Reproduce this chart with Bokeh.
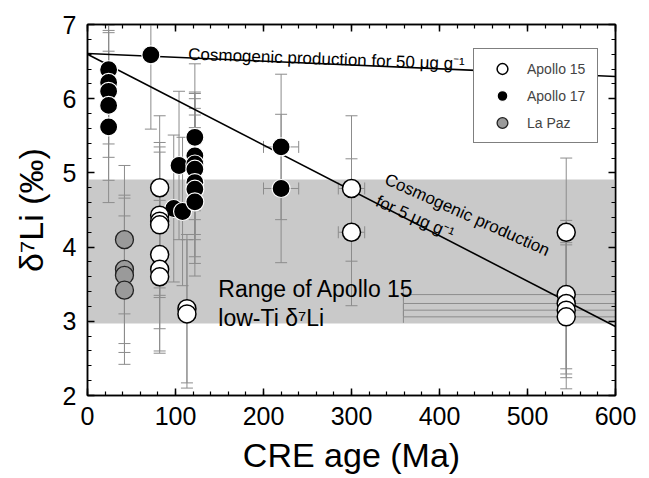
from bokeh.plotting import figure
from bokeh.models import (ColumnDataSource, Whisker, TeeHead, BoxAnnotation, Label,
                          Legend, LegendItem, LinearAxis, SingleIntervalTicker, Range1d)
from bokeh.embed import file_html
from bokeh.resources import INLINE

# ---------------- data ----------------
x_axis_range = [0, 600]
y_axis_range = [2, 7]

# Apollo 15 (open circles)
a15_age = [82, 82, 82, 82, 82, 82, 82, 113, 113, 300, 300, 544, 544, 544, 544, 544]
a15_d7li = [4.80, 4.43, 4.35, 4.30, 3.90, 3.70, 3.60, 3.17, 3.10, 4.79, 4.20,
            4.20, 3.36, 3.24, 3.15, 3.06]
a15_yerr = [0.97, 0.98, 1.00, 0.98, 1.00, 1.10, 1.03, 1.00, 1.00, 0.98, 0.99,
            1.00, 1.00, 0.95, 0.91, 0.97]
a15_xerr = [0, 0, 0, 0, 0, 0, 0, 0, 0, 15, 15, 0, 185, 185, 185, 185]

# Apollo 17 (filled black)
a17_age = [24, 24, 24, 24, 24, 72, 104, 98, 108, 122, 122, 122, 122, 122, 122, 122, 220, 220]
a17_d7li = [6.39, 6.22, 6.10, 5.91, 5.62, 6.59, 5.10, 4.52, 4.48,
            5.48, 5.23, 5.12, 5.05, 4.87, 4.78, 4.61, 5.35, 4.79]
a17_yerr = [0.50, 0.83, 0.89, 1.01, 1.02, 1.00, 1.00, 0.99, 1.00,
            0.99, 0.86, 0.95, 0.95, 1.00, 1.00, 1.00, 0.98, 1.00]
a17_xerr = [0, 0, 0, 0, 0, 0, 0, 0, 0, 0, 0, 0, 0, 0, 0, 0, 20, 20]

# La Paz (grey)
lapaz_age = [42, 42, 42, 42]
lapaz_d7li = [4.10, 3.70, 3.62, 3.42]
lapaz_yerr = [1.00, 1.00, 1.04, 1.00]

# cosmogenic production lines
cosmo50_age = [0, 600]
cosmo50_d7li = [6.61, 6.30]
cosmo5_age = [0, 600]
cosmo5_d7li = [6.60, 2.93]

# range of Apollo 15 low-Ti basalts
lowti_range = [2.97, 4.91]

# ---------------- styling ----------------
FONT = "Liberation Sans"
ERR = "#8c8c8c"

p = figure(width=649, height=478,
           x_range=Range1d(*x_axis_range), y_range=Range1d(*y_axis_range),
           output_backend="svg", toolbar_location=None,
           min_border_left=87, min_border_right=34, min_border_top=24, min_border_bottom=83)
p.background_fill_color = "white"
p.border_fill_color = "white"
p.outline_line_color = "black"
p.outline_line_width = 1.5
p.xgrid.visible = False
p.ygrid.visible = False

p.add_layout(LinearAxis(), "above")
p.add_layout(LinearAxis(), "right")

for ax in p.xaxis:
    ax.ticker = SingleIntervalTicker(interval=100, num_minor_ticks=5)
for ax in p.yaxis:
    ax.ticker = SingleIntervalTicker(interval=1, num_minor_ticks=5)

for ax in p.xaxis + p.yaxis:
    ax.axis_line_color = "black"
    ax.axis_line_width = 1.5
    ax.major_tick_in = 7
    ax.major_tick_out = 0
    ax.minor_tick_in = 4
    ax.minor_tick_out = 0
    ax.major_tick_line_color = "black"
    ax.major_tick_line_width = 1.5
    ax.minor_tick_line_color = "black"
    ax.minor_tick_line_width = 1.2
    ax.major_label_text_font = FONT
    ax.major_label_text_font_size = "25px"
    ax.major_label_text_color = "black"
    ax.major_label_standoff = 11
    ax.axis_label_text_font = FONT
    ax.axis_label_text_font_style = "normal"
    ax.axis_label_text_color = "black"

# top/right axes carry ticks only
for ax in (p.above[0], p.right[0]):
    ax.major_label_text_font_size = "1px"
    ax.major_label_text_color = None
    ax.major_label_standoff = 0

p.below[0].axis_label = "CRE age (Ma)"
p.below[0].axis_label_text_font_size = "34px"
p.below[0].axis_label_standoff = 8
p.left[0].axis_label = "δ⁷Li (‰)"
p.left[0].axis_label_text_font_size = "34px"
p.left[0].axis_label_standoff = 10

# grey band
band = BoxAnnotation(bottom=lowti_range[0], top=lowti_range[1], fill_color="#c9c9c9",
                     fill_alpha=1.0, line_alpha=0, level="image")
p.add_layout(band)


def add_yerr(xs, ys, errs):
    src = ColumnDataSource(dict(base=xs,
                                lower=[y - e for y, e in zip(ys, errs)],
                                upper=[y + e for y, e in zip(ys, errs)]))
    w = Whisker(source=src, base="base", lower="lower", upper="upper", dimension="height",
                line_color=ERR, line_width=1, level="underlay",
                upper_head=TeeHead(size=12, line_color=ERR, line_width=1),
                lower_head=TeeHead(size=12, line_color=ERR, line_width=1))
    p.add_layout(w)


def add_xerr(xs, ys, errs):
    sel = [(x, y, e) for x, y, e in zip(xs, ys, errs) if e > 0]
    if not sel:
        return
    src = ColumnDataSource(dict(base=[s[1] for s in sel],
                                lower=[s[0] - s[2] for s in sel],
                                upper=[s[0] + s[2] for s in sel]))
    w = Whisker(source=src, base="base", lower="lower", upper="upper", dimension="width",
                line_color=ERR, line_width=1, level="underlay",
                upper_head=TeeHead(size=12, line_color=ERR, line_width=1),
                lower_head=TeeHead(size=12, line_color=ERR, line_width=1))
    p.add_layout(w)


add_yerr(a17_age, a17_d7li, a17_yerr)
add_yerr(lapaz_age, lapaz_d7li, lapaz_yerr)
add_yerr(a15_age, a15_d7li, a15_yerr)
add_xerr(a17_age, a17_d7li, a17_xerr)
add_xerr(a15_age, a15_d7li, a15_xerr)

# production lines
p.line(cosmo50_age, cosmo50_d7li, line_color="black", line_width=1.6)
p.line(cosmo5_age, cosmo5_d7li, line_color="black", line_width=1.6)

# points
r17 = p.scatter(a17_age, a17_d7li, marker="circle", size=18, fill_color="black",
                line_color="white", line_width=1.2)
rlp = p.scatter(lapaz_age, lapaz_d7li, marker="circle", size=18, fill_color="#9a9a9a",
                line_color="#222222", line_width=1.3)
r15 = p.scatter(a15_age, a15_d7li, marker="circle", size=18, fill_color="white",
                line_color="black", line_width=1.5)

# annotations
p.add_layout(Label(x=114.5, y=6.60, text="Cosmogenic production for 50 μg g⁻¹",
                   angle=-0.036, text_font=FONT, text_font_size="17px",
                   text_color="black", text_baseline="alphabetic"))
p.add_layout(Label(x=338.8, y=4.925, text="Cosmogenic production",
                   angle=-0.42, text_font=FONT, text_font_size="17px",
                   text_color="black", text_baseline="alphabetic"))
p.add_layout(Label(x=328.6, y=4.63, text="for 5 μg g⁻¹",
                   angle=-0.42, text_font=FONT, text_font_size="17px",
                   text_color="black", text_baseline="alphabetic"))
p.add_layout(Label(x=148.6, y=3.43, text="Range of Apollo 15",
                   text_font=FONT, text_font_size="23px", text_color="black",
                   text_baseline="alphabetic"))
p.add_layout(Label(x=148.6, y=3.05, text="low-Ti δ⁷Li",
                   text_font=FONT, text_font_size="23px", text_color="black",
                   text_baseline="alphabetic"))

legend = Legend(items=[LegendItem(label="Apollo 15", renderers=[r15]),
                       LegendItem(label="Apollo 17", renderers=[r17]),
                       LegendItem(label="La Paz", renderers=[rlp])],
                location=(386, 252), glyph_width=44, glyph_height=27, spacing=0,
                padding=6, margin=0, label_standoff=3, label_width=64, label_height=27,
                label_text_font=FONT, label_text_font_size="14px",
                border_line_color="black", border_line_width=1.5,
                background_fill_color="white", background_fill_alpha=1.0)
p.add_layout(legend)

open("out.html", "w").write(file_html(p, INLINE))
